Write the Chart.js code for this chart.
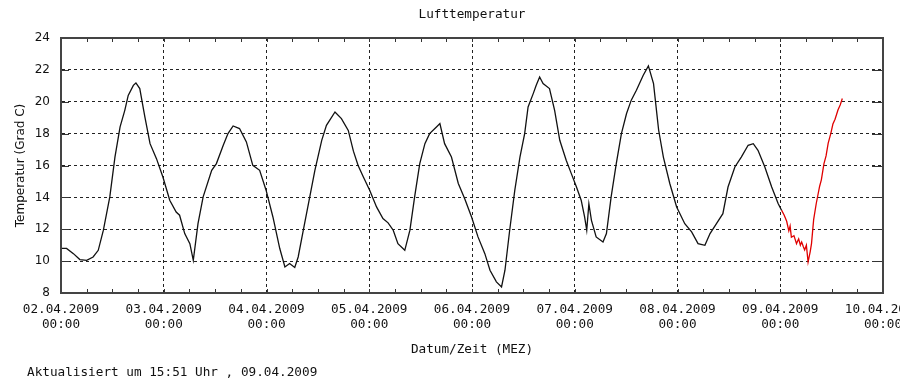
<!DOCTYPE html>
<html><head><meta charset="utf-8">
<script src="https://cdn.jsdelivr.net/npm/chart.js@4.4.0/dist/chart.umd.min.js"></script>
<style>
html,body{margin:0;padding:0;background:#fff;overflow:hidden;width:900px;height:380px;}
#wrap{position:relative;width:900px;height:380px;overflow:hidden;}
#c{position:absolute;left:0;top:0;}
#foot{position:absolute;left:27px;top:364px;font-family:"DejaVu Sans Mono",monospace;font-size:12.7px;color:#111;white-space:pre;line-height:16px;}
</style></head>
<body>
<div id="wrap"><canvas id="c" width="940" height="380"></canvas>
<div id="foot">Aktualisiert um 15:51 Uhr , 09.04.2009</div></div>
<script>
// hours since 02.04.2009 00:00
const dayLabels = ["02.04.2009","03.04.2009","04.04.2009","05.04.2009","06.04.2009","07.04.2009","08.04.2009","09.04.2009","10.04.2009"];
const timeLabel = "00:00";
const yTicks = [8,10,12,14,16,18,20,22,24];

const hoursPast = [0,1.3,2.9,4.4,6,7.5,8.7,9.9,11.4,12.6,13.8,14.9,15.7,16.9,17.5,18.4,19.6,20.8,22.3,23.8,25.4,26.9,27.7,28.9,30.1,30.9,32.0,33.2,35.2,36.3,37.9,39.0,40.2,41.7,43.3,44.8,46.4,47.9,49.5,51.1,52.3,53.4,54.6,55.4,56.6,57.8,59.3,60.9,62.0,64.0,65.5,67.1,68.3,69.4,70.6,72.1,73.7,75.2,76.4,77.6,78.7,80.3,81.5,82.6,83.8,85.0,86.1,87.7,88.5,89.6,91.2,92.8,94.3,95.9,97.4,99.0,100.2,101.7,102.9,103.7,104.8,106.0,107.2,108.3,109.1,110.3,111.0,111.8,112.6,114.1,115.3,116.5,118.0,119.2,120.4,121.5,122.3,122.8,123.3,123.9,125.0,126.6,127.4,128.5,129.7,130.9,132.1,133.2,134.4,136.0,137.2,138.4,139.6,140.7,142.2,143.8,145.7,147.3,148.8,150.4,151.6,153.1,154.6,155.8,157.4,158.9,160.5,161.7,162.8,164.4,166.0,167.5,168.3];
const tempPast = [10.8,10.8,10.47,10.1,10.05,10.26,10.68,11.94,14.03,16.53,18.42,19.46,20.4,21.03,21.18,20.83,19.04,17.37,16.43,15.28,13.82,13.08,12.88,11.73,11.1,10.05,12.35,14.03,15.7,16.12,17.27,18.0,18.48,18.32,17.48,16.01,15.7,14.45,12.77,10.79,9.63,9.85,9.6,10.26,11.94,13.61,15.7,17.58,18.52,19.36,18.94,18.2,16.9,16.0,15.3,14.45,13.4,12.67,12.4,11.94,11.1,10.68,11.94,14.03,16.12,17.37,18.0,18.42,18.63,17.37,16.53,14.87,13.92,12.77,11.52,10.47,9.43,8.7,8.38,9.43,11.94,14.45,16.53,18.0,19.67,20.51,21.03,21.55,21.14,20.83,19.46,17.58,16.33,15.49,14.65,13.82,12.77,11.94,13.6,12.56,11.52,11.2,11.73,14.03,16.12,18.0,19.26,20.1,20.72,21.66,22.25,21.14,18.21,16.53,14.87,13.4,12.35,11.83,11.1,10.99,11.73,12.35,12.98,14.65,15.91,16.53,17.27,17.37,16.95,15.91,14.65,13.61,13.19];

const hoursToday = [168.3,168.9,169.5,170.0,170.3,170.6,171.2,171.8,172.3,172.7,173.0,173.4,173.7,174.1,174.5,175.0,175.3,175.8,176.4,177.2,177.6,178.2,178.7,179.2,179.8,180.3,180.8,181.5,182.0,182.5];
const tempToday = [13.2,12.9,12.5,11.9,12.2,11.5,11.6,11.1,11.4,11.0,11.2,10.9,10.7,11.0,9.95,10.6,11.1,12.6,13.6,14.7,15.1,16.1,16.6,17.4,18.0,18.6,18.9,19.5,19.8,20.2];

const monoFont = {family:"'DejaVu Sans Mono', monospace", size:12.7, lineHeight:1.2};
const sansFont = {family:"'DejaVu Sans', sans-serif", size:12, lineHeight:1.2};

const framePlugin = {
  id:'frame',
  afterDatasetsDraw(chart){
    const {ctx, chartArea:a, scales:{x,y}} = chart;
    ctx.save();
    ctx.strokeStyle = '#333';
    ctx.lineWidth = 1;
    ctx.beginPath();
    for (let h = 0; h <= 192; h += 6) {
      const px = Math.round(x.getPixelForValue(h)) + 0.5;
      ctx.moveTo(px, a.bottom); ctx.lineTo(px, a.bottom - 4);
      ctx.moveTo(px, a.top); ctx.lineTo(px, a.top + 4);
    }
    yTicks.forEach(v => {
      const py = Math.round(y.getPixelForValue(v)) + 0.5;
      ctx.moveTo(a.left, py); ctx.lineTo(a.left + 8, py);
      ctx.moveTo(a.right, py); ctx.lineTo(a.right - 11, py);
    });
    ctx.stroke();
    ctx.lineWidth = 2;
    ctx.strokeStyle = '#444';
    ctx.strokeRect(a.left, a.top, a.right - a.left, a.bottom - a.top);
    ctx.restore();
  }
};

new Chart(document.getElementById('c'), {
  type:'line',
  data:{datasets:[
    {data: hoursPast.map((h,i)=>({x:h,y:tempPast[i]})), borderColor:'#111', borderWidth:1.3, pointRadius:0, tension:0},
    {data: hoursToday.map((h,i)=>({x:h,y:tempToday[i]})), borderColor:'#e00000', borderWidth:1.3, pointRadius:0, tension:0}
  ]},
  options:{
    responsive:false, animation:false,
    layout:{padding:{left:0,right:57,top:0,bottom:23}},
    plugins:{
      legend:{display:false}, tooltip:{enabled:false},
      title:{display:true, text:'Lufttemperatur', fullSize:false, color:'#111', font:{...monoFont, weight:'normal'}, padding:{top:7,bottom:15.76}}
    },
    scales:{
      x:{type:'linear', min:0, max:192,
        afterFit(s){ s.height = 64; },
        ticks:{stepSize:24, autoSkip:false, maxRotation:0, minRotation:0, padding:9, color:'#111', font:monoFont,
          callback:(v)=>[dayLabels[Math.round(v/24)], timeLabel]},
        grid:{color:'#222', lineWidth:1, drawTicks:false},
        border:{display:true, color:'#444', width:2, dash:[3,3]},
        title:{display:true, text:'Datum/Zeit (MEZ)', color:'#111', font:monoFont, padding:{top:3,bottom:0}}
      },
      y:{min:8, max:24,
        afterFit(s){ s.width = 61; },
        ticks:{stepSize:2, padding:11, color:'#111', font:sansFont},
        grid:{color:'#222', lineWidth:1, drawTicks:false},
        border:{display:true, color:'#444', width:2, dash:[3,3]},
        title:{display:true, text:'Temperatur (Grad C)', color:'#111', font:sansFont, padding:{top:14,bottom:0}}
      }
    }
  },
  plugins:[framePlugin]
});
</script>
</body></html>
